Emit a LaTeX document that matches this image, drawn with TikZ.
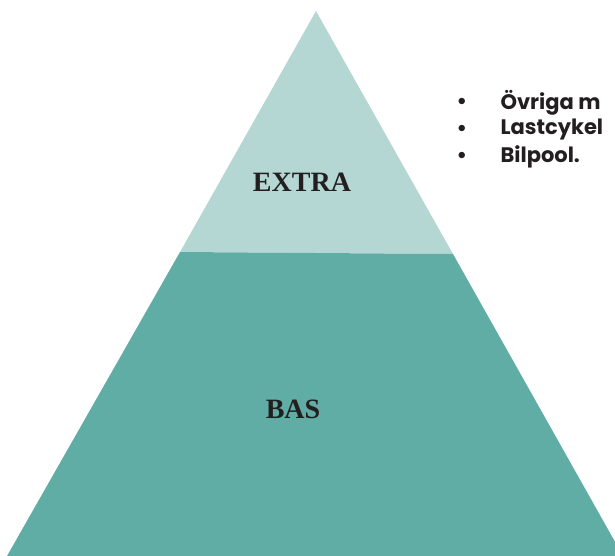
\documentclass[tikz,border=0pt]{standalone}
\usepackage{fontspec}
\setmainfont{Liberation Serif}
\newfontfamily\listfont{Poppins}
\definecolor{extrafill}{HTML}{B4D7D3}
\definecolor{basfill}{HTML}{5FADA5}
\definecolor{inktext}{HTML}{231F20}
\tikzset{
  level/.style={font=\fontsize{28}{30}\selectfont\bfseries, text=inktext},
  item/.style={anchor=west, font=\listfont\fontsize{21}{23}\selectfont\bfseries, text=inktext}
}

\begin{document}
\begin{tikzpicture}[x=1pt,y=-1pt]
\useasboundingbox (0,0) rectangle (615,555);
\clip (0,0) rectangle (615,555);

\fill[extrafill] (316,11) -- (180,252) -- (453,254) -- cycle;
\fill[basfill] (180,252) -- (453,254) -- (623,556) -- (7,556) -- cycle;

\node[level] (extra) at (302,182) {EXTRA};
\node[level] (bas) at (293,409) {BAS};

\node[item] (b1) at (453,103) {•};
\node[item] (b2) at (453,130) {•};
\node[item] (b3) at (453,157) {•};
\node[item] (t1) at (497,103) {Övriga m};
\node[item] (t2) at (497,130) {Lastcykel};
\node[item] (t3) at (497,157) {Bilpool.};
\end{tikzpicture}
\end{document}
